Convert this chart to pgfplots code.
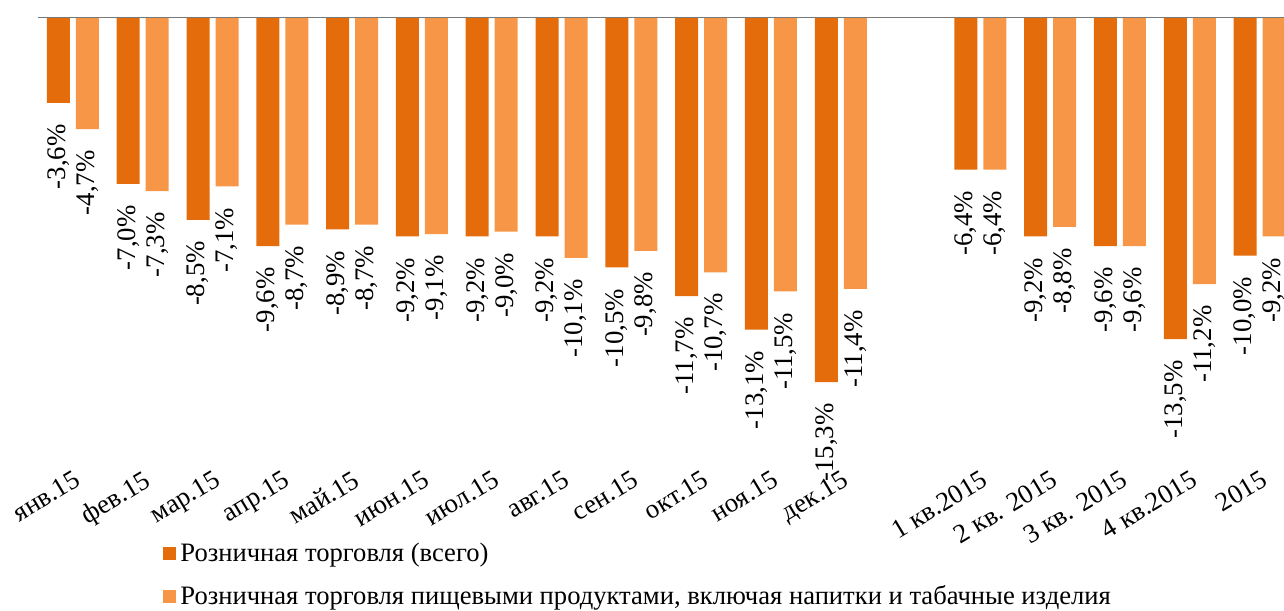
\documentclass[border=0pt]{standalone}
\usepackage{fontspec}
\setmainfont{Liberation Serif}
\usepackage{pgfplots}
\pgfplotsset{compat=1.18}
\definecolor{darkor}{HTML}{E46C0A}
\definecolor{lightor}{HTML}{F79646}
\begin{document}
\begin{tikzpicture}
\begin{axis}[
  name=ax,
  scale only axis,
  width=623pt, height=216.5pt,
  xmin=-0.5, xmax=17.35,
  ymin=-18.15, ymax=0,
  ybar=3pt, bar width=11.5pt,
  axis line style={draw=none},
  ytick=\empty,
  xtick={0,1,2,3,4,5,6,7,8,9,10,11,13,14,15,16,17},
  xticklabels={янв.15,фев.15,мар.15,апр.15,май.15,июн.15,июл.15,авг.15,сен.15,окт.15,ноя.15,дек.15,1 кв.2015,2 кв. 2015,3 кв. 2015,4 кв.2015,2015},
  major tick length=0pt,
  xticklabel shift=9.5pt,
  xticklabel style={rotate=31, anchor=north east, font=\fontsize{13.4}{15}\selectfont, inner sep=0pt},
  /pgf/number format/assume math mode=true,
  nodes near coords={\pgfmathprintnumber[fixed,fixed zerofill,precision=1,use comma]{\pgfplotspointmeta}\%},
  every node near coord/.append style={rotate=90, anchor=east, font=\fontsize{13.4}{15}\selectfont, inner xsep=10.5pt, inner ysep=0pt, text=black},
  legend style={at={(0.1003,-0.205)}, anchor=north west, draw=none, fill=none, inner sep=0pt, row sep=6.5pt, font=\fontsize{13.3}{15}\selectfont},
  legend cell align=left,
  legend image code/.code={\fill[#1] (0pt,-3.25pt) rectangle (6.5pt,3.25pt);},
]
\addplot[fill=darkor, draw=none] coordinates {
 (0,-3.6) (1,-7.0) (2,-8.5) (3,-9.6) (4,-8.9) (5,-9.2) (6,-9.2) (7,-9.2) (8,-10.5) (9,-11.7) (10,-13.1) (11,-15.3)
 (13,-6.4) (14,-9.2) (15,-9.6) (16,-13.5) (17,-10.0)};
\addlegendentry{Розничная торговля (всего)}
\addplot[fill=lightor, draw=none] coordinates {
 (0,-4.7) (1,-7.3) (2,-7.1) (3,-8.7) (4,-8.7) (5,-9.1) (6,-9.0) (7,-10.1) (8,-9.8) (9,-10.7) (10,-11.5) (11,-11.4)
 (13,-6.4) (14,-8.8) (15,-9.6) (16,-11.2) (17,-9.2)};
\addlegendentry{Розничная торговля пищевыми продуктами, включая напитки и табачные изделия}
\draw[color=gray!95!black, line width=1.1pt] (rel axis cs:0,1) -- (rel axis cs:1,1);
\end{axis}
\pgfresetboundingbox
\path[use as bounding box] ([xshift=-19pt,yshift=-80pt]ax.south west) rectangle ([yshift=8.5pt]ax.north east);
\end{tikzpicture}
\end{document}
